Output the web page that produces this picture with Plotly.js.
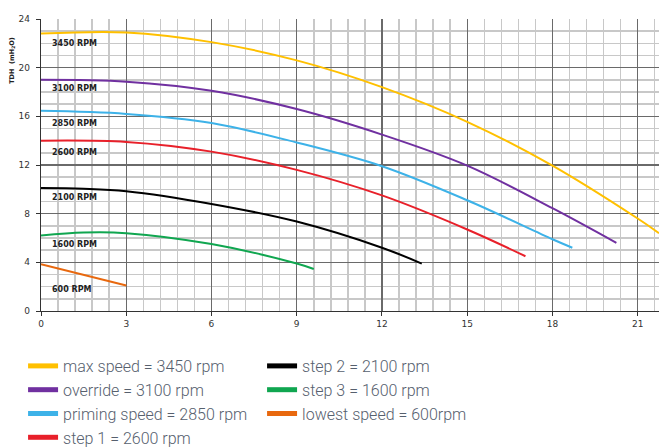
<!DOCTYPE html>
<html>
<head>
<meta charset="utf-8">
<script src="https://cdn.plot.ly/plotly-3.0.1.min.js"></script>
<style>html,body{margin:0;padding:0;background:#fff;}#chart{width:659px;height:448px;}</style>
</head>
<body>
<div id="chart"></div>
<script>
// Flow (x) and head (y)
var flow3450 = [0, 3, 6, 9, 12, 15, 18, 21, 21.75];
var head3450 = [22.8, 22.9, 22.1, 20.6, 18.4, 15.55, 11.95, 7.6, 6.4];
var flow3100 = [0, 3, 6, 9, 12, 15, 18, 20.25];
var head3100 = [19.0, 18.85, 18.1, 16.6, 14.5, 11.95, 8.45, 5.6];
var flow2850 = [0, 3, 6, 9, 12, 15, 18, 18.7];
var head2850 = [16.45, 16.2, 15.45, 13.85, 11.9, 9.1, 5.9, 5.2];
var flow2600 = [0, 3, 6, 9, 12, 15, 17.05];
var head2600 = [14.0, 13.9, 13.1, 11.6, 9.5, 6.7, 4.5];
var flow2100 = [0, 1.5, 3, 6, 9, 12, 13.4];
var head2100 = [10.1, 10.05, 9.85, 8.8, 7.35, 5.2, 3.9];
var flow1600 = [0, 1.5, 3, 6, 9, 9.6];
var head1600 = [6.2, 6.45, 6.4, 5.5, 3.9, 3.45];
var flow600 = [0, 3];
var head600 = [3.85, 2.1];

var legendNames = ["max speed = 3450 rpm", "override = 3100 rpm", "priming speed = 2850 rpm",
  "step 1 = 2600 rpm", "step 2 = 2100 rpm", "step 3 = 1600 rpm", "lowest speed = 600rpm"];
var curveLabels = ["3450 RPM", "3100 RPM", "2850 RPM", "2600 RPM", "2100 RPM", "1600 RPM", "600 RPM"];
var curveLabelHead = [22.0, 18.25, 15.45, 13.0, 9.35, 5.5, 1.8];

var colors = ["#FFC000", "#7030A0", "#3DB2E8", "#E8202A", "#000000", "#10A650", "#E8680E"];
var flows = [flow3450, flow3100, flow2850, flow2600, flow2100, flow1600, flow600];
var heads = [head3450, head3100, head2850, head2600, head2100, head1600, head600];

var traces = [];
for (var i = 0; i < flows.length; i++) {
  traces.push({
    x: flows[i], y: heads[i], type: "scatter", mode: "lines",
    line: {color: colors[i], width: 2, shape: "spline", smoothing: 1},
    showlegend: false, hoverinfo: "skip"
  });
}
// legend entries, column-wise order (2 per row)
var legendOrder = [0, 4, 1, 5, 2, 6, 3];
legendOrder.forEach(function (k) {
  traces.push({
    x: [null], y: [null], type: "scatter", mode: "lines",
    name: legendNames[k], line: {color: colors[k], width: 5},
    showlegend: true
  });
});

var annotations = curveLabels.map(function (t, i) {
  return {x: 0.3, y: curveLabelHead[i], xref: "x", yref: "y", text: t, showarrow: false,
    xanchor: "left", yanchor: "middle",
    font: {family: "DejaVu Sans", size: 8, color: "#222", weight: "bold"}};
});
annotations.push({
  xref: "paper", yref: "paper", x: -0.047, y: 0.86, text: "TDH  (mH<sub>2</sub>O)",
  showarrow: false, textangle: -90, xanchor: "center", yanchor: "middle",
  font: {family: "DejaVu Sans", size: 6.5, color: "#222", weight: "bold"}
});

var layout = {
  width: 659, height: 448,
  margin: {l: 41, r: 0, t: 19, b: 137, pad: 0, autoexpand: false},
  paper_bgcolor: "#fff", plot_bgcolor: "#fff",
  xaxis: {
    range: [0, 21.75], dtick: 3, tick0: 0, showgrid: true, gridcolor: "#6a6a6a", gridwidth: 1.2,
    minor: {dtick: 0.6, showgrid: true, gridcolor: "#c8c8c8", gridwidth: 1.5},
    showline: true, linecolor: "#333", linewidth: 1.3,
    ticks: "outside", ticklen: 4, tickcolor: "#333",
    tickfont: {family: "DejaVu Sans", size: 9, color: "#333"}, zeroline: false, fixedrange: true
  },
  yaxis: {
    range: [0, 24], dtick: 4, tick0: 0, showgrid: true, gridcolor: "#6a6a6a", gridwidth: 1.2,
    minor: {dtick: 1, showgrid: true, gridcolor: "#c8c8c8", gridwidth: 1.5},
    showline: true, linecolor: "#333", linewidth: 1.3,
    ticks: "outside", ticklen: 4, tickcolor: "#333", ticklabelstandoff: 4,
    tickfont: {family: "DejaVu Sans", size: 9, color: "#333"}, zeroline: false, fixedrange: true
  },
  showlegend: true,
  legend: {
    orientation: "h", xref: "container", yref: "container",
    x: 0.035, xanchor: "left", y: 0.221, yanchor: "top",
    entrywidth: 194, entrywidthmode: "pixels", itemwidth: 30,
    font: {family: "Roboto", size: 16, color: "#56606E", weight: 300},
    bgcolor: "rgba(0,0,0,0)", tracegroupgap: 0
  },
  annotations: annotations
};

Plotly.newPlot("chart", traces, layout, {displayModeBar: false, staticPlot: true});
</script>
</body>
</html>
